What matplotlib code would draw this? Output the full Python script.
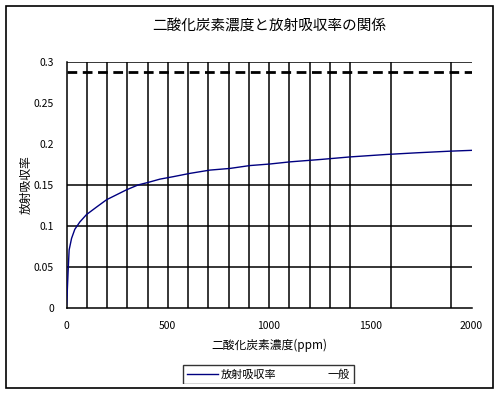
import matplotlib
matplotlib.use('Agg')
import matplotlib.pyplot as plt
from matplotlib.patches import Rectangle
from matplotlib.lines import Line2D
from matplotlib.transforms import Bbox, TransformedBbox

plt.rcParams['font.family'] = ['Noto Sans CJK JP', 'DejaVu Sans']

# absorption curve
co2_ppm = [0, 3, 8, 13, 25, 41, 66, 99, 148, 198, 247, 296, 354, 403, 461,
           527, 609, 708, 806, 905, 1004, 1103, 1259, 1399, 1580, 1728, 1893, 2000]
absorb = [0.004, 0.016, 0.045, 0.071, 0.085, 0.096, 0.105, 0.114, 0.123, 0.132, 0.138,
          0.144, 0.150, 0.153, 0.157, 0.160, 0.164, 0.168, 0.170, 0.1735, 0.1754,
          0.178, 0.181, 0.184, 0.187, 0.189, 0.191, 0.192]

# "一般" reference level
ippan_x = [0, 2000]
ippan_y = [0.2875, 0.2875]

# vertical lines and horizontal grid seen in the chart
drop_x = [100, 200, 300, 400, 500, 600, 700, 800, 900, 1000,
          1100, 1200, 1300, 1400, 1600, 1900]
grid_y = [0.05, 0.1, 0.15, 0.3]

x_ticks = [0, 500, 1000, 1500, 2000]
y_ticks = [0, 0.05, 0.1, 0.15, 0.2, 0.25, 0.3]
y_ticklabels = ['0', '0.05', '0.1', '0.15', '0.2', '0.25', '0.3']

fig = plt.figure(figsize=(5.0, 3.93), dpi=100)
ax = fig.add_axes([0.133, 0.2155, 0.81, 0.628])

for x in drop_x:
    ax.plot([x, x], [0, 0.3], color='black', lw=1.1, zorder=1)
for y in grid_y:
    ax.plot([0, 2000], [y, y], color='black', lw=1.1, zorder=1)

ax.plot(ippan_x, ippan_y, color='black', lw=2, dashes=(3.5, 2), zorder=3, label='一般')
ax.plot(co2_ppm, absorb, color='#000080', lw=1, zorder=4, label='放射吸収率')

ax.set_xlim(0, 2000)
ax.set_ylim(0, 0.3)
ax.set_xticks(x_ticks)
ax.set_yticks(y_ticks)
ax.set_yticklabels(y_ticklabels)
ax.tick_params(length=0, labelsize=7.5, pad=9)
for s in ['top', 'right']:
    ax.spines[s].set_visible(False)
for s in ['left', 'bottom']:
    ax.spines[s].set_linewidth(1.1)

ax.set_title('二酸化炭素濃度と放射吸収率の関係', fontsize=10.5, pad=22)
ax.set_xlabel('二酸化炭素濃度(ppm)', fontsize=8.5, labelpad=6)
ax.set_ylabel('放射吸収率', fontsize=8.5, labelpad=1)

handles = [Line2D([], [], color='#000080', lw=1),
           Line2D([], [], color='none')]
leg = fig.legend(handles, ['放射吸収率', '一般'], loc='upper center',
                 bbox_to_anchor=(0.537, 0.071), ncol=2, fontsize=8,
                 frameon=True, fancybox=False, edgecolor='black',
                 borderpad=0.4, handlelength=2.8, handletextpad=0.2,
                 columnspacing=1.6, borderaxespad=0)
leg.get_frame().set_linewidth(1)
# the bottom edge of the legend box is cut off in the original
clip = TransformedBbox(Bbox([[0, 0.024], [1, 1]]), fig.transFigure)
leg.get_frame().set_clip_box(clip)
leg.get_frame().set_clip_on(True)

fig.patches.append(Rectangle((0.012, 0.012), 0.974, 0.974, transform=fig.transFigure,
                             fill=False, edgecolor='black', lw=1.2))

fig.savefig('out.png', dpi=100)
